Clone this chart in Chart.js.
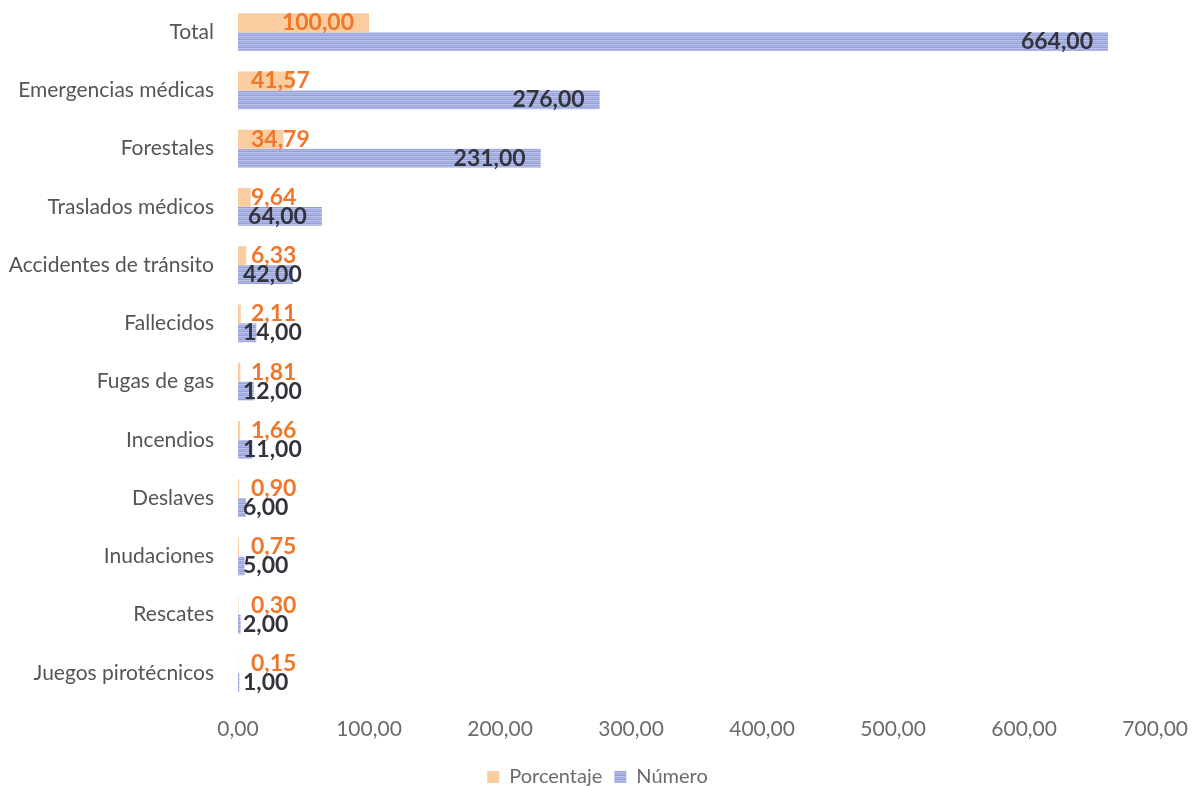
<!DOCTYPE html>
<html>
<head>
<meta charset="utf-8">
<script src="https://cdn.jsdelivr.net/npm/chart.js@4/dist/chart.umd.min.js"></script>
<style>
  html, body { margin: 0; padding: 0; background: #fff; }
  #wrap { width: 1195px; height: 786px; }
</style>
</head>
<body>
<div id="wrap"><canvas id="chart" width="1195" height="786"></canvas></div>
<script>
// categorías y valores
var categorias = ["Total", "Emergencias médicas", "Forestales", "Traslados médicos",
  "Accidentes de tránsito", "Fallecidos", "Fugas de gas", "Incendios", "Deslaves",
  "Inudaciones", "Rescates", "Juegos pirotécnicos"];
var porcentaje = [100.00, 41.57, 34.79, 9.64, 6.33, 2.11, 1.81, 1.66, 0.90, 0.75, 0.30, 0.15];
var numero = [664, 276, 231, 64, 42, 14, 12, 11, 6, 5, 2, 1];
var ticksX = [0, 100, 200, 300, 400, 500, 600, 700];

var FONT = "Lato, 'Open Sans', sans-serif";

function fmt(v) {
  return v.toFixed(2).replace(".", ",");
}

// relleno rayado para las barras de "Número"
function rayado() {
  var c = document.createElement("canvas");
  c.width = 8; c.height = 4;
  var g = c.getContext("2d");
  var filas = ["#bcc3e9", "#9ea9de", "#aeb6e4", "#939fd8"];
  for (var i = 0; i < filas.length; i++) {
    g.fillStyle = filas[i];
    g.fillRect(0, i, 8, 1);
  }
  return g.createPattern(c, "repeat");
}

// etiquetas de datos: dentro del extremo, sin salirse del inicio de la barra
var etiquetas = {
  id: "etiquetas",
  afterDatasetsDraw: function (chart) {
    var ctx = chart.ctx;
    var colores = ["#f0762a", "#33333d"];
    var inicio = [13, 5];
    ctx.save();
    ctx.font = "bold 23px " + FONT;
    ctx.textBaseline = "middle";
    chart.data.datasets.forEach(function (ds, d) {
      var meta = chart.getDatasetMeta(d);
      meta.data.forEach(function (bar, i) {
        var txt = fmt(ds.data[i]);
        var w = ctx.measureText(txt).width;
        var x = bar.x - 15 - w;
        var minX = bar.base + inicio[d];
        if (x < minX) x = minX;
        ctx.fillStyle = colores[d];
        ctx.fillText(txt, x, bar.y);
      });
    });
    ctx.restore();
  }
};

// baja la leyenda hasta el borde inferior
var leyendaAbajo = {
  id: "leyendaAbajo",
  beforeDraw: function (chart) {
    var lg = chart.legend;
    if (!lg) return;
    var dy = 786 - 8 - (lg.top + 12 + 11);
    lg.top += dy;
    lg.bottom += dy;
  }
};

var ctx = document.getElementById("chart").getContext("2d");

var chart = new Chart(ctx, {
  type: "bar",
  data: {
    labels: categorias,
    datasets: [
      {
        label: "Porcentaje",
        data: porcentaje,
        backgroundColor: "#f9cd9f",
        borderWidth: 0,
        categoryPercentage: 0.65,
        barPercentage: 1.0
      },
      {
        label: "Número",
        data: numero,
        backgroundColor: rayado(),
        borderWidth: 0,
        categoryPercentage: 0.65,
        barPercentage: 1.0
      }
    ]
  },
  options: {
    indexAxis: "y",
    responsive: false,
    animation: false,
    layout: { padding: { top: 3, left: 0, right: 0, bottom: 0 } },
    scales: {
      x: {
        min: 0,
        max: 700,
        afterBuildTicks: function (scale) {
          scale.ticks = ticksX.map(function (v) { return { value: v }; });
        },
        afterFit: function (scale) {
          scale.height = 42;
          scale.paddingTop = 0;
          scale.paddingBottom = 0;
        },
        grid: { display: false },
        border: { display: false },
        ticks: {
          padding: 7,
          color: "#6b6b6b",
          font: { family: FONT, size: 21 },
          callback: function (v) { return fmt(v); }
        }
      },
      y: {
        grid: { display: false },
        border: { display: false },
        afterFit: function (scale) {
          scale.width = 238;
          scale.paddingTop = 0;
          scale.paddingBottom = 0;
        },
        ticks: {
          padding: 16,
          color: "#555555",
          font: { family: FONT, size: 21 }
        }
      }
    },
    plugins: {
      legend: {
        position: "bottom",
        labels: {
          boxWidth: 12,
          boxHeight: 12,
          padding: 12,
          color: "#6b6b6b",
          font: { family: FONT, size: 20 }
        }
      },
      tooltip: { enabled: false }
    }
  },
  plugins: [etiquetas, leyendaAbajo]
});
</script>
</body>
</html>
